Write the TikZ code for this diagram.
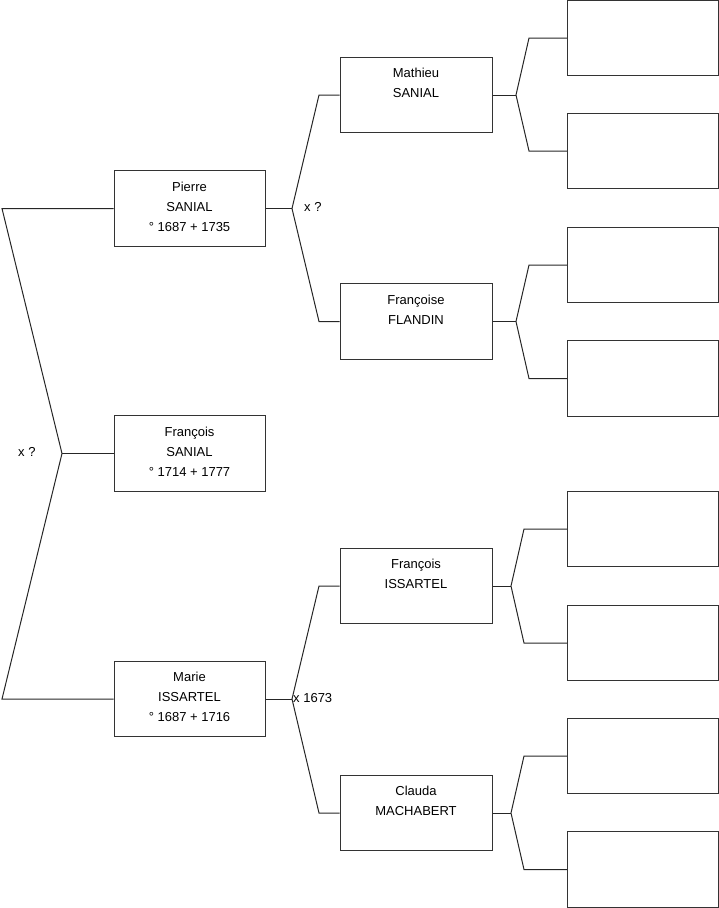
\documentclass[tikz,border=0pt]{standalone}
\usepackage{fontspec}
\setmainfont{Liberation Sans}
\begin{document}
\begin{tikzpicture}[x=1pt,y=-1pt,
  box/.style={draw=black!80,line width=1pt,rectangle,minimum height=75.5pt,inner sep=0pt},
  g1/.style={box,minimum width=151pt},
  g2/.style={box,minimum width=152pt},
  g3/.style={box,minimum width=151.5pt},
  txt/.style={font=\fontsize{13}{20}\selectfont,align=center,inner sep=0pt,anchor=north},
  lbl/.style={font=\fontsize{13}{15}\selectfont,inner sep=0pt},
  ln/.style={draw=black!85,line width=1pt}]
\useasboundingbox (0,0) rectangle (719,908);
% generation 1
\node[g1] (P) at (189.5,208.5) {};
\node[g1] (F) at (189.5,453.5) {};
\node[g1] (M) at (189.5,699) {};
% generation 2
\node[g2] (MS) at (416,95) {};
\node[g2] (FF) at (416,321.5) {};
\node[g2] (FI) at (416,586) {};
\node[g2] (CM) at (416,813) {};
% generation 3
\node[g3] (B1) at (643,38) {};
\node[g3] (B2) at (643,151) {};
\node[g3] (B3) at (643,265) {};
\node[g3] (B4) at (643,378.5) {};
\node[g3] (B5) at (643,529) {};
\node[g3] (B6) at (643,643) {};
\node[g3] (B7) at (643,756) {};
\node[g3] (B8) at (643,869.5) {};
% texts
\node[txt] (tP) at ([yshift=-11.5pt]P.north) {Pierre\\SANIAL\\° 1687 + 1735};
\node[txt] (tF) at ([yshift=-11.5pt]F.north) {François\\SANIAL\\° 1714 + 1777};
\node[txt] (tM) at ([yshift=-11.5pt]M.north) {Marie\\ISSARTEL\\° 1687 + 1716};
\node[txt] (tMS) at ([yshift=-11.5pt]MS.north) {Mathieu\\SANIAL};
\node[txt] (tFF) at ([yshift=-11.5pt]FF.north) {Françoise\\FLANDIN};
\node[txt] (tFI) at ([yshift=-11.5pt]FI.north) {François\\ISSARTEL};
\node[txt] (tCM) at ([yshift=-11.5pt]CM.north) {Clauda\\MACHABERT};
% fork points
\coordinate (a1) at (2,208.5);
\coordinate (a2) at (62,453.5);
\coordinate (a3) at (2,699);
\coordinate (pv) at (292,208.5);
\coordinate (pt) at (319,95);
\coordinate (pb) at (319,321.5);
\coordinate (mv) at (292,699);
\coordinate (mt) at (319,586);
\coordinate (mb) at (319,813);
\coordinate (v1) at (516,95);
\coordinate (c1) at (529,38);
\coordinate (c2) at (529,151);
\coordinate (v2) at (516,321.5);
\coordinate (c3) at (529,265);
\coordinate (c4) at (529,378.5);
\coordinate (v3) at (511,586);
\coordinate (c5) at (524,529);
\coordinate (c6) at (524,643);
\coordinate (v4) at (511,813);
\coordinate (c7) at (524,756);
\coordinate (c8) at (524,869.5);
% connectors
\draw[ln] (P.west) -- (a1) -- (a2) -- (a3) -- (M.west);
\draw[ln] (a2) -- (F.west);
\draw[ln] (P.east) -- (pv);
\draw[ln] (MS.west) -- (pt) -- (pv) -- (pb) -- (FF.west);
\draw[ln] (M.east) -- (mv);
\draw[ln] (FI.west) -- (mt) -- (mv) -- (mb) -- (CM.west);
\draw[ln] (MS.east) -- (v1);
\draw[ln] (B1.west) -- (c1) -- (v1) -- (c2) -- (B2.west);
\draw[ln] (FF.east) -- (v2);
\draw[ln] (B3.west) -- (c3) -- (v2) -- (c4) -- (B4.west);
\draw[ln] (FI.east) -- (v3);
\draw[ln] (B5.west) -- (c5) -- (v3) -- (c6) -- (B6.west);
\draw[ln] (CM.east) -- (v4);
\draw[ln] (B7.west) -- (c7) -- (v4) -- (c8) -- (B8.west);
% labels
\node[lbl,anchor=west] (x1) at (18,452) {x ?};
\node[lbl,anchor=west] (x2) at (304,207) {x ?};
\node[lbl,anchor=west] (x3) at (293,698) {x 1673};
\end{tikzpicture}
\end{document}
